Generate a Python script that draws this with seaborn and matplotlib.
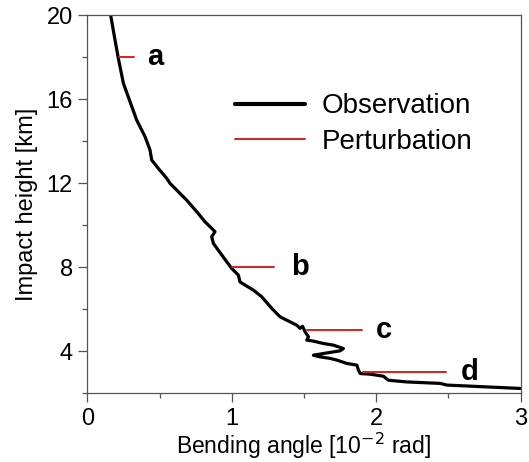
import numpy as np
import pandas as pd
import matplotlib
matplotlib.use("Agg")
import matplotlib.pyplot as plt
import seaborn as sns
from matplotlib.ticker import MultipleLocator

# Observation profile
obs_bend = [0.162, 0.192, 0.215, 0.250, 0.300, 0.342, 0.400, 0.434, 0.446, 0.492,
            0.550, 0.573, 0.619, 0.688, 0.758, 0.815, 0.861, 0.884, 0.861, 0.873,
            0.907, 0.965, 1.000, 1.046, 1.057, 1.092, 1.150, 1.208, 1.277, 1.334,
            1.404, 1.450, 1.473, 1.490, 1.508, 1.531, 1.519, 1.560, 1.634, 1.704,
            1.773, 1.750, 1.658, 1.565, 1.612, 1.681, 1.727, 1.796, 1.866, 1.877,
            1.889, 1.958, 2.050, 2.085, 2.212, 2.443, 2.489, 2.742, 2.997]
obs_height = [20.0, 18.82, 17.95, 16.76, 15.81, 15.01, 14.22, 13.59, 13.11, 12.71,
              12.24, 12.0, 11.68, 11.2, 10.65, 10.17, 9.86, 9.70, 9.46, 9.14,
              8.82, 8.27, 7.95, 7.63, 7.31, 7.16, 6.92, 6.60, 6.05, 5.65,
              5.41, 5.25, 5.10, 5.20, 4.93, 4.70, 4.54, 4.50, 4.38, 4.30,
              4.14, 4.03, 3.93, 3.82, 3.74, 3.67, 3.59, 3.43, 3.35, 3.11,
              2.95, 2.92, 2.82, 2.63, 2.55, 2.48, 2.40, 2.32, 2.24]

# Perturbations
pert_height = [18, 8, 5, 3]
pert_start = [0.22, 1.0, 1.52, 1.91]
pert_end = [0.32, 1.29, 1.90, 2.48]
pert_label = ["a", "b", "c", "d"]
label_x = [0.47, 1.47, 2.05, 2.65]

sns.set_theme(style="ticks")
plt.rcParams["font.family"] = ["Liberation Sans", "DejaVu Sans"]
plt.rcParams["text.color"] = "black"
plt.rcParams["axes.labelcolor"] = "black"
plt.rcParams["xtick.labelcolor"] = "black"
plt.rcParams["ytick.labelcolor"] = "black"

fig = plt.figure(figsize=(5.29, 4.62), dpi=100)
ax = fig.add_axes([0.165, 0.1483, 0.8193, 0.8186])

df = pd.DataFrame({"bend": obs_bend, "height": obs_height})
sns.lineplot(data=df, x="bend", y="height", sort=False, estimator=None,
             color="black", lw=2.3, ax=ax, label="Observation")

for i, (h, s, e) in enumerate(zip(pert_height, pert_start, pert_end)):
    pdf = pd.DataFrame({"bend": [s, e], "height": [h, h]})
    sns.lineplot(data=pdf, x="bend", y="height", sort=False, estimator=None,
                 color="#d62020", lw=1.4, ax=ax,
                 label="Perturbation" if i == 0 else None)

for lx, h, t in zip(label_x, pert_height, pert_label):
    ax.text(lx, h, t, fontsize=21, fontweight="bold", ha="center", va="center",
            color="black")

ax.set_xlim(0, 3)
ax.set_ylim(2, 20)
ax.xaxis.set_major_locator(MultipleLocator(1))
ax.xaxis.set_minor_locator(MultipleLocator(0.5))
ax.yaxis.set_major_locator(MultipleLocator(4))
ax.yaxis.set_minor_locator(MultipleLocator(2))
ax.tick_params(which="major", length=6.5, width=0.9, color="#555555",
               labelsize=17, pad=4)
ax.tick_params(which="minor", length=3.5, width=0.9, color="#555555")
for sp in ax.spines.values():
    sp.set_visible(True)
    sp.set_color("#555555")
    sp.set_linewidth(0.9)

ax.set_xlabel("Bending angle [10$^{-2}$ rad]", fontsize=16.5, labelpad=0.5)
ax.set_ylabel("Impact height [km]", fontsize=17, labelpad=6)

leg = ax.legend(loc="upper left", bbox_to_anchor=(0.282, 0.86), frameon=False,
                fontsize=20, handlelength=2.55, handletextpad=0.6,
                labelspacing=0.35)
leg.get_lines()[0].set_linewidth(3)

fig.savefig("out.png", dpi=100)
